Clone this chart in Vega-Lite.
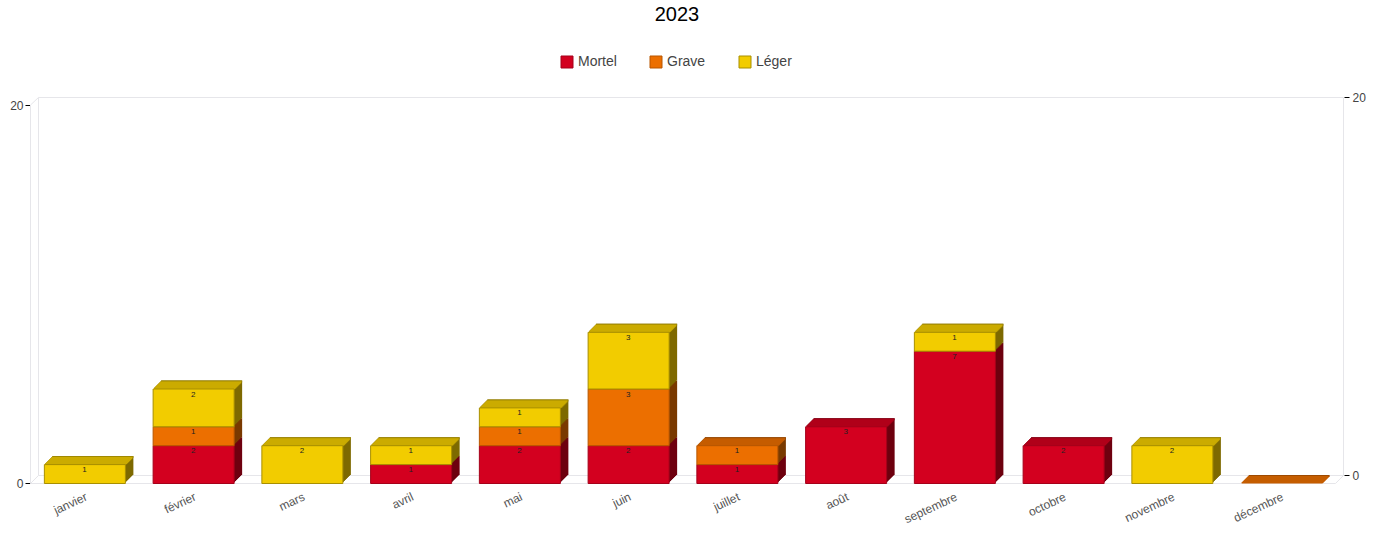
{"$schema":"https://vega.github.io/schema/vega-lite/v6.json","width":1314,"height":387,"autosize":{"type":"none"},"padding":{"left":30,"top":97,"right":42,"bottom":65},"background":"white",
"title":{"text":"2023","font":"Liberation Sans","fontSize":20,"fontWeight":"normal","color":"#000000","anchor":"middle","dx":-10,"offset":30},
"config":{"view":{"stroke":null}},
"resolve":{"scale":{"x":"independent","y":"independent"},"axis":{"x":"independent","y":"independent"}},
"layer":[
{"data":{"values":[{"step":1,"xu":0.0782,"v":19.9735},{"step":2,"xu":0.0782,"v":-0.0265},{"step":3,"xu":12.0782,"v":-0.0265},{"step":4,"xu":12.0782,"v":19.9735},{"step":5,"xu":0.0782,"v":19.9735}]},
"mark":{"type":"line","stroke":"#E6E6EA","strokeWidth":1},
"encoding":{"x":{"field":"xu","type":"quantitative","scale":{"domain":[0,12.0828],"nice":false,"zero":false},"axis":null},
"y":{"field":"v","type":"quantitative","scale":{"domain":[-0.476,20],"nice":false,"zero":false},"axis":{"orient":"right","values":[0,20],"title":null,"grid":false,"domain":false,"tickColor":"#000000","tickSize":5,"labelFont":"Liberation Sans","labelFontSize":12,"labelColor":"#444444","labelPadding":3}},
"order":{"field":"step"}}},
{"data":{"values":[{"edge":"a","step":1,"xu":0.0782,"v":20.397},{"edge":"a","step":2,"xu":0.0046,"v":20},{"edge":"a","step":3,"xu":0.0046,"v":-0.0265},{"edge":"a","step":4,"xu":12.0046,"v":-0.0265},{"edge":"a","step":5,"xu":12.0782,"v":0.397},{"edge":"b","step":1,"xu":0.0046,"v":-0.0265},{"edge":"b","step":2,"xu":0.0782,"v":0.397}]},
"mark":{"type":"line","stroke":"#E6E6EA","strokeWidth":1},
"encoding":{"x":{"field":"xu","type":"quantitative","scale":{"domain":[0,12.0828],"nice":false,"zero":false},"axis":null},
"y":{"field":"v","type":"quantitative","scale":{"domain":[-0.0529,20.4233],"nice":false,"zero":false},"axis":{"orient":"left","values":[0,20],"title":null,"grid":false,"domain":false,"tickColor":"#000000","tickSize":5,"labelFont":"Liberation Sans","labelFontSize":12,"labelColor":"#444444","labelPadding":2}},
"detail":{"field":"edge"},"order":{"field":"step"}}},
{"data":{"values":[
{"month":"janvier","category":"Léger","value":1},
{"month":"février","category":"Mortel","value":2},{"month":"février","category":"Grave","value":1},{"month":"février","category":"Léger","value":2},
{"month":"mars","category":"Léger","value":2},
{"month":"avril","category":"Mortel","value":1},{"month":"avril","category":"Léger","value":1},
{"month":"mai","category":"Mortel","value":2},{"month":"mai","category":"Grave","value":1},{"month":"mai","category":"Léger","value":1},
{"month":"juin","category":"Mortel","value":2},{"month":"juin","category":"Grave","value":3},{"month":"juin","category":"Léger","value":3},
{"month":"juillet","category":"Mortel","value":1},{"month":"juillet","category":"Grave","value":1},
{"month":"août","category":"Mortel","value":3},
{"month":"septembre","category":"Mortel","value":7},{"month":"septembre","category":"Léger","value":1},
{"month":"octobre","category":"Mortel","value":2},
{"month":"novembre","category":"Léger","value":2},
{"month":"décembre","category":"Grave","value":0}]},
"transform":[{"stack":"value","groupby":["month"],"as":["y0","y1"]},{"joinaggregate":[{"op":"max","field":"y1","as":"total"}],"groupby":["month"]}],
"encoding":{"x":{"field":"month","type":"nominal","sort":null,"scale":{"range":[0,1305],"paddingInner":0.255,"paddingOuter":0.1275},"axis":{"title":null,"ticks":false,"domain":false,"grid":false,"labelAngle":-25,"labelAlign":"right","labelBaseline":"top","labelPadding":7,"labelFont":"Liberation Sans","labelFontSize":12,"labelColor":"#555555"}},
"y":{"field":"y1","type":"quantitative","scale":{"domain":[-0.0529,20.4233],"nice":false,"zero":false},"axis":null}},
"layer":[
{"mark":{"type":"bar","xOffset":8.5,"x2Offset":8.5,"yOffset":-8,"y2Offset":-8,"fill":{"expr":"({'Mortel':'#6E000F','Grave':'#7A3A00','Léger':'#7E6A00'})[datum.category]"}},"encoding":{"y2":{"field":"y0"}}},
{"mark":{"type":"bar","xOffset":7.5,"x2Offset":7.5,"yOffset":-7,"y2Offset":-7,"fill":{"expr":"({'Mortel':'#6E000F','Grave':'#7A3A00','Léger':'#7E6A00'})[datum.category]"}},"encoding":{"y2":{"field":"y0"}}},
{"mark":{"type":"bar","xOffset":6.5,"x2Offset":6.5,"yOffset":-6,"y2Offset":-6,"fill":{"expr":"({'Mortel':'#6E000F','Grave':'#7A3A00','Léger':'#7E6A00'})[datum.category]"}},"encoding":{"y2":{"field":"y0"}}},
{"mark":{"type":"bar","xOffset":5.5,"x2Offset":5.5,"yOffset":-5,"y2Offset":-5,"fill":{"expr":"({'Mortel':'#6E000F','Grave':'#7A3A00','Léger':'#7E6A00'})[datum.category]"}},"encoding":{"y2":{"field":"y0"}}},
{"mark":{"type":"bar","xOffset":4.5,"x2Offset":4.5,"yOffset":-4,"y2Offset":-4,"fill":{"expr":"({'Mortel':'#6E000F','Grave':'#7A3A00','Léger':'#7E6A00'})[datum.category]"}},"encoding":{"y2":{"field":"y0"}}},
{"mark":{"type":"bar","xOffset":3.5,"x2Offset":3.5,"yOffset":-3,"y2Offset":-3,"fill":{"expr":"({'Mortel':'#6E000F','Grave':'#7A3A00','Léger':'#7E6A00'})[datum.category]"}},"encoding":{"y2":{"field":"y0"}}},
{"mark":{"type":"bar","xOffset":2.5,"x2Offset":2.5,"yOffset":-2,"y2Offset":-2,"fill":{"expr":"({'Mortel':'#6E000F','Grave':'#7A3A00','Léger':'#7E6A00'})[datum.category]"}},"encoding":{"y2":{"field":"y0"}}},
{"mark":{"type":"bar","xOffset":1.5,"x2Offset":1.5,"yOffset":-1,"y2Offset":-1,"fill":{"expr":"({'Mortel':'#6E000F','Grave':'#7A3A00','Léger':'#7E6A00'})[datum.category]"}},"encoding":{"y2":{"field":"y0"}}},
{"transform":[{"filter":"datum.y1==datum.total"}],"mark":{"type":"bar","xOffset":8.5,"x2Offset":8.5,"yOffset":-8,"y2Offset":-6,"fill":{"expr":"({'Mortel':'#8E0014','Grave':'#9E4A00','Léger':'#A08800'})[datum.category]"}},"encoding":{"y2":{"field":"y1"}}},
{"transform":[{"filter":"datum.y1==datum.total"}],"mark":{"type":"bar","xOffset":7.5,"x2Offset":7.5,"yOffset":-7,"y2Offset":-5,"fill":{"expr":"({'Mortel':'#B0001A','Grave':'#C55D00','Léger':'#CBAB00'})[datum.category]"}},"encoding":{"y2":{"field":"y1"}}},
{"transform":[{"filter":"datum.y1==datum.total"}],"mark":{"type":"bar","xOffset":6.5,"x2Offset":6.5,"yOffset":-6,"y2Offset":-4,"fill":{"expr":"({'Mortel':'#B0001A','Grave':'#C55D00','Léger':'#CBAB00'})[datum.category]"}},"encoding":{"y2":{"field":"y1"}}},
{"transform":[{"filter":"datum.y1==datum.total"}],"mark":{"type":"bar","xOffset":5.5,"x2Offset":5.5,"yOffset":-5,"y2Offset":-3,"fill":{"expr":"({'Mortel':'#B0001A','Grave':'#C55D00','Léger':'#CBAB00'})[datum.category]"}},"encoding":{"y2":{"field":"y1"}}},
{"transform":[{"filter":"datum.y1==datum.total"}],"mark":{"type":"bar","xOffset":4.5,"x2Offset":4.5,"yOffset":-4,"y2Offset":-2,"fill":{"expr":"({'Mortel':'#B0001A','Grave':'#C55D00','Léger':'#CBAB00'})[datum.category]"}},"encoding":{"y2":{"field":"y1"}}},
{"transform":[{"filter":"datum.y1==datum.total"}],"mark":{"type":"bar","xOffset":3.5,"x2Offset":3.5,"yOffset":-3,"y2Offset":-1,"fill":{"expr":"({'Mortel':'#B0001A','Grave':'#C55D00','Léger':'#CBAB00'})[datum.category]"}},"encoding":{"y2":{"field":"y1"}}},
{"transform":[{"filter":"datum.y1==datum.total"}],"mark":{"type":"bar","xOffset":2.5,"x2Offset":2.5,"yOffset":-2,"y2Offset":0,"fill":{"expr":"({'Mortel':'#B0001A','Grave':'#C55D00','Léger':'#CBAB00'})[datum.category]"}},"encoding":{"y2":{"field":"y1"}}},
{"transform":[{"filter":"datum.y1==datum.total"}],"mark":{"type":"bar","xOffset":1.5,"x2Offset":1.5,"yOffset":-1,"y2Offset":0.5,"fill":{"expr":"({'Mortel':'#B0001A','Grave':'#C55D00','Léger':'#CBAB00'})[datum.category]"}},"encoding":{"y2":{"field":"y1"}}},
{"transform":[{"filter":"datum.value>0"}],"mark":{"type":"bar","strokeWidth":1,"xOffset":0.5,"x2Offset":0.5,"yOffset":0.5,"y2Offset":0.5},
"encoding":{"y2":{"field":"y0"},
"fill":{"field":"category","type":"nominal","scale":{"domain":["Mortel","Grave","Léger"],"range":["#D3001F","#EC6F00","#F2CC00"]},
"legend":{"title":null,"orient":"none","legendX":530,"legendY":-42,"direction":"horizontal","columns":3,"gridAlign":"all","columnPadding":31,"symbolType":"square","symbolSize":144,"symbolStrokeWidth":1,"symbolOpacity":1,"labelFont":"Liberation Sans","labelFontSize":14,"labelColor":"#444444","labelOffset":4}},
"stroke":{"field":"category","type":"nominal","scale":{"domain":["Mortel","Grave","Léger"],"range":["#A5001A","#B85700","#A88F00"]}}}},
{"transform":[{"filter":"datum.value>0"}],"mark":{"type":"text","font":"Liberation Sans","fontSize":8,"color":"#222222","baseline":"middle","align":"center","dy":6},"encoding":{"text":{"field":"value","type":"quantitative"}}}
]}
]}
